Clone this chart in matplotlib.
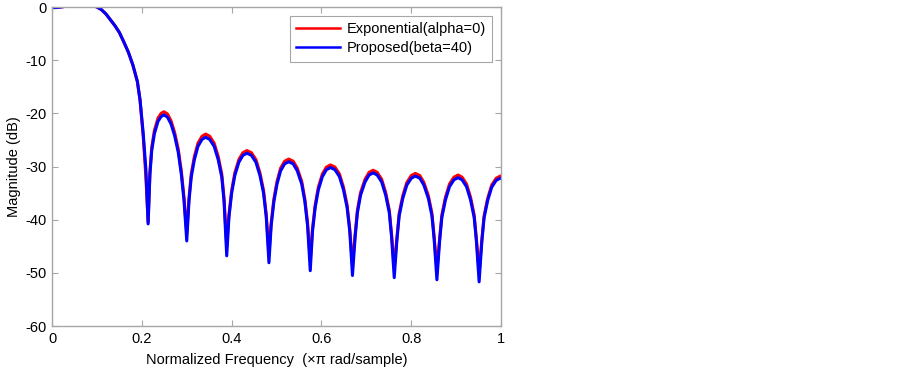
import matplotlib
matplotlib.use("Agg")
import matplotlib.pyplot as plt

# Values (normalized frequency, magnitude in dB)
freq = [
    0.0, 0.01, 0.02, 0.035, 0.05, 0.07, 0.09, 0.10, 0.11, 0.12, 0.13, 0.14, 0.15,
    0.16, 0.17, 0.18, 0.19, 0.196, 0.203, 0.209, 0.214,
    # lobe 1
    0.218, 0.222, 0.228, 0.236, 0.243, 0.249, 0.257, 0.265, 0.273, 0.281, 0.288, 0.294, 0.300,
    # lobe 2
    0.305, 0.310, 0.317, 0.325, 0.334, 0.342, 0.351, 0.361, 0.370, 0.378, 0.383, 0.389,
    # lobe 3
    0.394, 0.400, 0.407, 0.416, 0.425, 0.434, 0.444, 0.454, 0.463, 0.471, 0.477, 0.483,
    # lobe 4
    0.488, 0.494, 0.501, 0.509, 0.518, 0.527, 0.537, 0.546, 0.556, 0.563, 0.569, 0.575,
    # lobe 5
    0.580, 0.586, 0.593, 0.602, 0.611, 0.620, 0.630, 0.640, 0.649, 0.657, 0.663, 0.669,
    # lobe 6
    0.675, 0.680, 0.687, 0.697, 0.706, 0.715, 0.724, 0.734, 0.743, 0.751, 0.756, 0.762,
    # lobe 7
    0.768, 0.773, 0.781, 0.790, 0.800, 0.809, 0.819, 0.828, 0.838, 0.846, 0.851, 0.857,
    # lobe 8
    0.863, 0.868, 0.876, 0.885, 0.895, 0.904, 0.913, 0.923, 0.932, 0.940, 0.945, 0.951,
    # lobe 9
    0.957, 0.962, 0.970, 0.979, 0.989, 0.998, 1.0,
]

mag_exponential = [
    -0.1, -0.1, 0.0, 0.2, 0.4, 0.5, 0.3, 0.0, -0.5, -1.3, -2.4, -3.5, -4.8,
    -6.6, -8.5, -10.9, -14.0, -17.5, -24.3, -32.0, -40.5,
    -31.0, -26.4, -23.2, -20.9, -20.0, -19.7, -20.1, -21.4, -23.6, -26.7, -30.9, -35.9, -42.5,
    -35.9, -31.4, -28.1, -25.6, -24.3, -23.9, -24.3, -25.6, -28.1, -31.4, -35.9, -45.0,
    -39.0, -34.5, -31.2, -28.7, -27.4, -27.0, -27.4, -28.7, -31.2, -34.5, -39.0, -46.3,
    -40.6, -36.1, -32.8, -30.3, -29.0, -28.6, -29.0, -30.3, -32.8, -36.1, -40.6, -47.6,
    -41.7, -37.2, -33.9, -31.4, -30.1, -29.7, -30.1, -31.4, -33.9, -37.2, -41.7, -48.5,
    -42.7, -38.2, -34.9, -32.4, -31.1, -30.7, -31.1, -32.4, -34.9, -38.2, -42.7, -49.0,
    -43.3, -38.8, -35.5, -33.0, -31.7, -31.3, -31.7, -33.0, -35.5, -38.8, -43.3, -49.5,
    -43.6, -39.1, -35.8, -33.3, -32.0, -31.6, -32.0, -33.3, -35.8, -39.1, -43.6, -50.0,
    -43.8, -39.3, -36.0, -33.5, -32.2, -31.8, -31.8,
]

mag_proposed = [
    -0.1, -0.1, 0.0, 0.2, 0.4, 0.5, 0.3, 0.0, -0.5, -1.3, -2.4, -3.5, -4.8,
    -6.6, -8.5, -10.9, -14.0, -17.5, -23.7, -30.5, -40.8,
    -31.5, -27.0, -23.8, -21.5, -20.6, -20.3, -20.7, -22.0, -24.2, -27.3, -31.5, -36.5, -44.0,
    -36.5, -32.0, -28.7, -26.2, -24.9, -24.5, -24.9, -26.2, -28.7, -32.0, -36.5, -46.8,
    -39.5, -35.0, -31.7, -29.2, -27.9, -27.5, -27.9, -29.2, -31.7, -35.0, -39.5, -48.1,
    -41.1, -36.6, -33.3, -30.8, -29.5, -29.1, -29.5, -30.8, -33.3, -36.6, -41.1, -49.6,
    -42.2, -37.7, -34.4, -31.9, -30.6, -30.2, -30.6, -31.9, -34.4, -37.7, -42.2, -50.5,
    -43.2, -38.7, -35.4, -32.9, -31.6, -31.2, -31.6, -32.9, -35.4, -38.7, -43.2, -50.9,
    -43.8, -39.3, -36.0, -33.5, -32.2, -31.8, -32.2, -33.5, -36.0, -39.3, -43.8, -51.3,
    -44.1, -39.6, -36.3, -33.8, -32.5, -32.1, -32.5, -33.8, -36.3, -39.6, -44.1, -51.7,
    -44.2, -39.7, -36.4, -33.9, -32.6, -32.2, -32.2,
]

labels = ["Exponential(alpha=0)", "Proposed(beta=40)"]
x_ticks = [0, 0.2, 0.4, 0.6, 0.8, 1.0]
x_ticklabels = ["0", "0.2", "0.4", "0.6", "0.8", "1"]
y_ticks = [0, -10, -20, -30, -40, -50, -60]

plt.rcParams["font.family"] = ["Liberation Sans", "DejaVu Sans"]
plt.rcParams["axes.unicode_minus"] = False

fig = plt.figure(figsize=(9, 3.69), dpi=100)
ax = fig.add_axes([0.0578, 0.1165, 0.499, 0.8645])

ax.plot(freq, mag_exponential, color="#ff0000", lw=2.2, label=labels[0])
ax.plot(freq, mag_proposed, color="#0000ff", lw=2.2, label=labels[1])

ax.set_xlim(0, 1)
ax.set_ylim(-60, 0)
ax.set_xticks(x_ticks)
ax.set_xticklabels(x_ticklabels)
ax.set_yticks(y_ticks)

grey = "#a6a6a6"
for s in ax.spines.values():
    s.set_color(grey)
    s.set_linewidth(1.0)
ax.tick_params(direction="in", top=True, right=True, length=4, color=grey,
               labelsize=10.5, labelcolor="black", pad=4)

ax.set_xlabel("Normalized Frequency  (\u00d7\u03c0 rad/sample)", fontsize=10.5, labelpad=5)
ax.set_ylabel("Magnitude (dB)", fontsize=10.5, labelpad=3)

leg = ax.legend(loc="upper right", fontsize=10.5, handlelength=3.0, handletextpad=0.45,
                fancybox=False, borderaxespad=0.6, framealpha=1, borderpad=0.45,
                labelspacing=0.35)
leg.get_frame().set_edgecolor(grey)
leg.get_frame().set_linewidth(0.8)
for line in leg.get_lines():
    line.set_linewidth(1.8)

fig.savefig("out.png", dpi=100)
